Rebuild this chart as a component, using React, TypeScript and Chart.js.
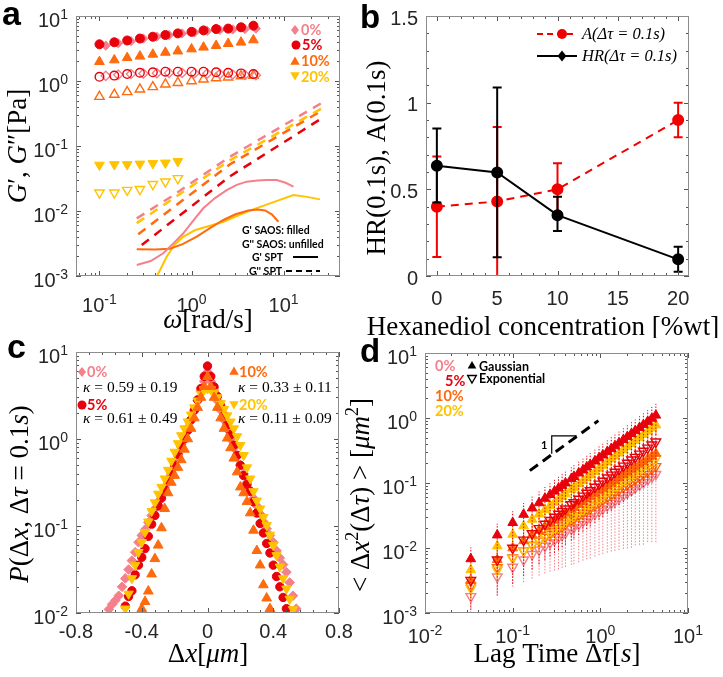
import React, { useEffect, useRef } from "react";
import { Chart, registerables } from "chart.js";

Chart.register(...registerables);

// ---------------- colours & fonts ----------------
const PINK = "#F4808B";
const RED = "#E8000B";
const ORANGE = "#FF6A0D";
const YELLOW = "#FFC300";
const BRED = "#F20000";
const SANS = '"Liberation Sans", Arial, sans-serif';
const LEG = 'Lato, "Open Sans", sans-serif';
const SERIF = '"Liberation Serif", "DejaVu Serif", serif';

// ---------------- panel a : SAOS / SPT moduli ----------------
const saosFreq = [0.1, 0.145, 0.2, 0.275, 0.38, 0.52, 0.71, 1.0, 1.35, 1.85, 2.5, 3.45, 4.7];
const saosFreqPink = [0.117, 0.16, 0.22, 0.3, 0.42, 0.57, 0.79, 1.08, 1.48, 2.03, 2.8, 3.8, 5.0];
const saosFreq20 = [0.1, 0.145, 0.2, 0.275, 0.38, 0.52, 0.71];
const Gp0 = [3.5, 3.8, 4.1, 4.5, 4.8, 5.1, 5.4, 5.6, 5.9, 6.1, 6.2, 6.3, 6.4];
const Gpp0 = [1.2, 1.25, 1.28, 1.3, 1.32, 1.33, 1.33, 1.32, 1.3, 1.28, 1.26, 1.24, 1.23];
const Gp5 = [3.67, 3.94, 4.2, 4.5, 4.8, 5.1, 5.4, 5.7, 6.0, 6.3, 6.4, 6.7, 7.1];
const Gpp5 = [1.16, 1.21, 1.28, 1.34, 1.36, 1.39, 1.39, 1.39, 1.39, 1.36, 1.34, 1.31, 1.28];
const Gp10 = [1.98, 2.1, 2.28, 2.4, 2.57, 2.75, 2.88, 3.1, 3.3, 3.5, 3.75, 3.94, 4.27];
const Gpp10 = [0.574, 0.62, 0.68, 0.745, 0.81, 0.89, 0.94, 1.0, 1.06, 1.11, 1.14, 1.19, 1.21];
const Gp20 = [0.051, 0.052, 0.052, 0.053, 0.054, 0.055, 0.058];
const Gpp20 = [0.0191, 0.0191, 0.021, 0.0216, 0.0258, 0.0283, 0.0318];

const sptFreqGp0 = [0.254, 0.36, 0.493, 0.64, 0.814, 1.05, 1.34, 1.8, 2.41, 3.1, 3.98, 5.2, 6.56, 8.43, 10.5, 12.8];
const sptGp0 = [0.00148, 0.0017, 0.00224, 0.0032, 0.00454, 0.0072, 0.011, 0.0158, 0.021, 0.0252, 0.0283, 0.0295, 0.03, 0.03, 0.0272, 0.0237];
const sptFreqGp10 = [0.254, 0.4, 0.583, 0.8, 1.14, 1.6, 2.22, 3.0, 4.14, 5.2, 6.3, 7.5, 8.78];
const sptGp10 = [0.00258, 0.00255, 0.00262, 0.0031, 0.00403, 0.0055, 0.00727, 0.0089, 0.0102, 0.0105, 0.0102, 0.0088, 0.00684];
const sptFreqGp20 = [0.4, 0.419, 0.537, 0.65, 0.814, 1.1, 1.46, 2.22, 3.98, 7.13, 12.8, 18, 24.9];
const sptGp20 = [0.00085, 0.00098, 0.00198, 0.003, 0.00403, 0.0051, 0.00574, 0.00684, 0.00975, 0.0131, 0.0176, 0.0165, 0.0151];

const sptFreqGpp0 = [0.254, 0.6, 2.6, 26];
const sptGpp0 = [0.0077, 0.0166, 0.068, 0.46];
const sptFreqGpp20 = [0.254, 2.6, 26];
const sptGpp20 = [0.0065, 0.06, 0.38];
const sptFreqGpp10 = [0.264, 2.6, 26];
const sptGpp10 = [0.0044, 0.052, 0.35];
const sptFreqGpp5 = [0.288, 2.6, 26];
const sptGpp5 = [0.003, 0.034, 0.267];

// ---------------- panel b : HR and A vs concentration ----------------
const conc = [0, 5, 10, 20];
const ampA = [0.4, 0.43, 0.5, 0.9];
const ampALo = [0.11, 0.0, 0.35, 0.8];
const ampAHi = [0.69, 0.86, 0.65, 1.0];
const hrVal = [0.636, 0.597, 0.351, 0.096];
const hrLo = [0.424, 0.108, 0.26, 0.025];
const hrHi = [0.851, 1.087, 0.457, 0.169];

// ---------------- panel c : displacement distributions ----------------
const dxBins = [-0.6, -0.58, -0.56, -0.54, -0.52, -0.5, -0.48, -0.46, -0.44, -0.42, -0.4, -0.38, -0.36, -0.34, -0.32, -0.3, -0.28, -0.26, -0.24, -0.22, -0.2, -0.18, -0.16, -0.14, -0.12, -0.1, -0.08, -0.06, -0.04, -0.02, 0, 0.02, 0.04, 0.06, 0.08, 0.1, 0.12, 0.14, 0.16, 0.18, 0.2, 0.22, 0.24, 0.26, 0.28, 0.3, 0.32, 0.34, 0.36, 0.38, 0.4, 0.42, 0.44, 0.46, 0.48, 0.5, 0.52, 0.54];
const pdf0 = [0.011, 0.0126, 0.014, 0.0158, 0.02, 0.025, 0.0316, 0.04, 0.05, 0.065, 0.078, 0.091, 0.11, 0.132, 0.158, 0.19, 0.23, 0.28, 0.35, 0.43, 0.54, 0.68, 0.85, 1.07, 1.35, 1.7, 2.14, 2.75, 3.55, 4.6, 5.9, 4.6, 3.55, 2.75, 2.14, 1.66, 1.29, 1.0, 0.79, 0.63, 0.5, 0.4, 0.316, 0.257, 0.209, 0.17, 0.138, 0.112, 0.093, 0.078, 0.065, 0.052, 0.043, 0.036, 0.0295, 0.0224, 0.0158, 0.0112];
const pdf5 = [null, null, null, null, null, 0.012, 0.0155, 0.018, 0.0275, 0.0355, 0.0437, 0.055, 0.076, 0.105, 0.132, 0.17, 0.209, 0.263, 0.331, 0.389, 0.5, 0.66, 0.83, 1.0, 1.26, 1.66, 2.14, 2.82, 3.8, 5.25, 6.9, 5.25, 3.98, 3.09, 2.4, 1.86, 1.45, 1.12, 0.85, 0.65, 0.5, 0.38, 0.3, 0.25, 0.19, 0.141, 0.107, 0.083, 0.063, 0.049, 0.0355, 0.0263, 0.02, 0.0151, 0.0112, null, null, null];
const pdf10 = [null, null, null, null, null, null, null, null, null, null, 0.0112, 0.0135, 0.0178, 0.028, 0.042, 0.06, 0.095, 0.158, 0.24, 0.316, 0.38, 0.47, 0.575, 0.76, 1.0, 1.32, 1.74, 2.3, 3.0, 4.0, 5.2, 4.0, 3.0, 2.3, 1.74, 1.32, 1.02, 0.79, 0.6, 0.417, 0.28, 0.24, 0.19, 0.141, 0.089, 0.052, 0.0355, 0.021, 0.0148, 0.0112, null, null, null, null, null, null, null, null];
const pdf20 = [null, null, null, null, null, 0.0112, 0.0166, 0.025, 0.0355, 0.05, 0.065, 0.085, 0.112, 0.148, 0.186, 0.234, 0.28, 0.35, 0.44, 0.56, 0.71, 0.89, 1.1, 1.32, 1.58, 1.9, 2.3, 2.75, 3.3, 3.7, 3.8, 3.7, 3.45, 3.0, 2.57, 2.2, 1.86, 1.58, 1.32, 1.07, 0.85, 0.65, 0.47, 0.35, 0.25, 0.195, 0.158, 0.126, 0.102, 0.079, 0.06, 0.046, 0.034, 0.025, 0.019, 0.0145, 0.011, null];

// ---------------- panel d : MSD vs lag time ----------------
const lagTime = [0.0333, 0.0667, 0.1, 0.1333, 0.1667, 0.2, 0.2333, 0.2667, 0.3, 0.3333, 0.3667, 0.4, 0.4667, 0.5, 0.5667, 0.6333, 0.7, 0.7667, 0.8667, 0.9667, 1.067, 1.2, 1.333, 1.467, 1.633, 1.833, 2.033, 2.267, 2.5, 2.8, 3.1, 3.467, 3.867, 4.3];
const msd5G = [0.0068, 0.0158, 0.0245, 0.0328, 0.0411, 0.0494, 0.0578, 0.066, 0.0745, 0.083, 0.0912, 0.0995, 0.116, 0.125, 0.142, 0.158, 0.175, 0.192, 0.217, 0.243, 0.268, 0.302, 0.336, 0.371, 0.412, 0.463, 0.514, 0.574, 0.634, 0.71, 0.787, 0.881, 0.984, 1.1];
const msd20G = [0.0046, 0.0107, 0.0162, 0.0218, 0.0275, 0.0331, 0.0388, 0.0446, 0.0502, 0.0561, 0.0618, 0.0676, 0.0793, 0.0851, 0.0968, 0.108, 0.12, 0.132, 0.15, 0.168, 0.186, 0.209, 0.234, 0.258, 0.288, 0.324, 0.361, 0.404, 0.447, 0.501, 0.557, 0.625, 0.7, 0.78];
const msd5E = [0.0032, 0.0066, 0.01, 0.0133, 0.0167, 0.02, 0.0233, 0.0267, 0.03, 0.0333, 0.0367, 0.04, 0.0467, 0.05, 0.0567, 0.0633, 0.07, 0.0767, 0.0867, 0.0967, 0.107, 0.12, 0.133, 0.147, 0.163, 0.183, 0.203, 0.227, 0.25, 0.28, 0.31, 0.347, 0.387, 0.43];
const msd10G = [0.0032, 0.0066, 0.01, 0.0129, 0.0158, 0.0185, 0.0213, 0.0239, 0.0266, 0.0292, 0.0318, 0.0344, 0.0394, 0.0419, 0.0468, 0.0516, 0.0565, 0.0612, 0.0682, 0.0753, 0.0822, 0.0912, 0.1, 0.109, 0.12, 0.133, 0.146, 0.161, 0.175, 0.194, 0.212, 0.235, 0.258, 0.284];
const msd20E = [0.0024, 0.0046, 0.0069, 0.0091, 0.0112, 0.0133, 0.0153, 0.0174, 0.0194, 0.0215, 0.0234, 0.0255, 0.0294, 0.0314, 0.0353, 0.0392, 0.0431, 0.0469, 0.0526, 0.0583, 0.064, 0.0714, 0.0791, 0.0865, 0.0955, 0.106, 0.117, 0.13, 0.143, 0.158, 0.175, 0.194, 0.215, 0.238];
const msd10E = [0.0026, 0.005, 0.0071, 0.0091, 0.011, 0.0129, 0.0147, 0.0164, 0.0182, 0.02, 0.0216, 0.0233, 0.0266, 0.0282, 0.0315, 0.0346, 0.0378, 0.0407, 0.0453, 0.0498, 0.0542, 0.06, 0.0658, 0.0714, 0.0782, 0.0863, 0.0944, 0.1035, 0.113, 0.124, 0.136, 0.149, 0.164, 0.18];
const msd0E = [0.0018, 0.0036, 0.0051, 0.0066, 0.008, 0.0094, 0.0107, 0.012, 0.0133, 0.0146, 0.0159, 0.0171, 0.0196, 0.0208, 0.0232, 0.0255, 0.0279, 0.0301, 0.0335, 0.0369, 0.0402, 0.0446, 0.0489, 0.0531, 0.0582, 0.0644, 0.0705, 0.0774, 0.0843, 0.0931, 0.102, 0.112, 0.123, 0.136];
// relative error (fraction of value) of each MSD series
const relErr0E = [0.35, 0.45, 0.5, 0.55, 0.58, 0.6, 0.62, 0.64, 0.66, 0.68, 0.69, 0.7, 0.72, 0.73, 0.74, 0.75, 0.76, 0.77, 0.78, 0.79, 0.8, 0.81, 0.82, 0.83, 0.84, 0.85, 0.86, 0.87, 0.87, 0.88, 0.89, 0.89, 0.9, 0.91];
const relErrSeries = [0.5, 0.25, 0.72, 0.28, 0.3, 0.3];
// slope-one guide and its triangle
const guideX = [0.157, 0.95];
const guideY = [0.155, 0.91];
const triX = [0.279, 0.279, 0.537];
const triY = [0.281, 0.53, 0.53];

// ---------------- helpers ----------------
type Seg = { t: string; i?: boolean; sup?: boolean };

const pts = (xs: number[], ys: (number | null)[]) =>
  xs.map((x, i) => ({ x, y: ys[i] })).filter((p) => p.y !== null && p.y !== undefined);

function logMinors(lo: number, hi: number) {
  const out: number[] = [];
  for (let e = Math.floor(Math.log10(lo)); e <= Math.ceil(Math.log10(hi)); e++)
    for (let k = 2; k <= 9; k++) {
      const v = k * Math.pow(10, e);
      if (v >= lo && v <= hi) out.push(v);
    }
  return out;
}
function linSteps(lo: number, hi: number, step: number) {
  const out: number[] = [];
  const n = Math.round((hi - lo) / step);
  for (let k = 0; k <= n; k++) out.push(+(lo + k * step).toFixed(6));
  return out;
}
const logFmt = (v: number): Seg[] => [{ t: "10" }, { t: String(Math.round(Math.log10(v))), sup: true }];
const plainFmt = (v: number): Seg[] => [{ t: String(v) }];

function drawRich(ctx: any, n: any) {
  ctx.save();
  ctx.translate(n.x, n.y);
  if (n.rot) ctx.rotate(-Math.PI / 2);
  const size = n.size;
  const font = (s: Seg) =>
    `${s.i ? "italic " : ""}${n.bold ? "bold " : ""}${s.sup ? Math.round(size * 0.68) : size}px ${n.family}`;
  let total = 0;
  const widths = n.segs.map((s: Seg) => {
    ctx.font = font(s);
    const w = ctx.measureText(s.t).width;
    total += w;
    return w;
  });
  let cx = n.align === "center" ? -total / 2 : n.align === "right" ? -total : 0;
  ctx.fillStyle = n.color || "#000";
  ctx.textAlign = "left";
  ctx.textBaseline = "alphabetic";
  n.segs.forEach((s: Seg, k: number) => {
    ctx.font = font(s);
    ctx.fillText(s.t, cx, s.sup ? -size * 0.42 : 0);
    cx += widths[k];
  });
  ctx.restore();
}

function drawMark(ctx: any, shape: string, x: number, y: number, r: number, color: string, fill: boolean) {
  ctx.save();
  ctx.beginPath();
  if (shape === "circle") ctx.arc(x, y, r, 0, Math.PI * 2);
  else if (shape === "diamond") {
    ctx.moveTo(x, y - r);
    ctx.lineTo(x + r * 0.8, y);
    ctx.lineTo(x, y + r);
    ctx.lineTo(x - r * 0.8, y);
  } else if (shape === "tri") {
    ctx.moveTo(x, y - r);
    ctx.lineTo(x + r * 0.866, y + r * 0.5);
    ctx.lineTo(x - r * 0.866, y + r * 0.5);
  } else {
    ctx.moveTo(x, y + r);
    ctx.lineTo(x + r * 0.866, y - r * 0.5);
    ctx.lineTo(x - r * 0.866, y - r * 0.5);
  }
  ctx.closePath();
  if (fill) {
    ctx.fillStyle = color;
    ctx.fill();
  } else {
    ctx.strokeStyle = color;
    ctx.lineWidth = 1.4;
    ctx.stroke();
  }
  ctx.restore();
}

function makeNotes(notes: any[], ox: number, oy: number) {
  return {
    id: "notes",
    afterDraw(chart: any) {
      const ctx = chart.ctx;
      ctx.save();
      ctx.translate(-ox, -oy);
      for (const n of notes) {
        if (n.kind === "text") drawRich(ctx, n);
        else if (n.kind === "mark") drawMark(ctx, n.shape, n.x, n.y, n.r, n.color, n.fill);
        else if (n.kind === "line") {
          ctx.save();
          ctx.strokeStyle = n.color;
          ctx.lineWidth = n.width;
          ctx.setLineDash(n.dash || []);
          ctx.beginPath();
          ctx.moveTo(n.pts[0], n.pts[1]);
          for (let k = 2; k < n.pts.length; k += 2) ctx.lineTo(n.pts[k], n.pts[k + 1]);
          ctx.stroke();
          ctx.restore();
        }
      }
      ctx.restore();
    },
  };
}

function makeFrame(c: any) {
  return {
    id: "frame",
    afterDraw(chart: any) {
      const ctx = chart.ctx;
      const a = chart.chartArea;
      const xs = chart.scales.x;
      const ys = chart.scales.y;
      ctx.save();
      ctx.lineWidth = 1;
      ctx.strokeStyle = "#555";
      const tickX = (v: number, len: number) => {
        const p = Math.round(xs.getPixelForValue(v)) + 0.5;
        if (p < a.left - 0.5 || p > a.right + 0.5) return;
        ctx.beginPath();
        ctx.moveTo(p, a.bottom);
        ctx.lineTo(p, a.bottom - len);
        ctx.moveTo(p, a.top);
        ctx.lineTo(p, a.top + len);
        ctx.stroke();
      };
      const tickY = (v: number, len: number) => {
        const p = Math.round(ys.getPixelForValue(v)) + 0.5;
        if (p < a.top - 0.5 || p > a.bottom + 0.5) return;
        ctx.beginPath();
        ctx.moveTo(a.left, p);
        ctx.lineTo(a.left + len, p);
        ctx.moveTo(a.right, p);
        ctx.lineTo(a.right - len, p);
        ctx.stroke();
      };
      c.xMinor.forEach((v: number) => tickX(v, 3));
      c.yMinor.forEach((v: number) => tickY(v, 3));
      c.xMajor.forEach((v: number) => tickX(v, 5));
      c.yMajor.forEach((v: number) => tickY(v, 5));
      ctx.strokeStyle = "#8c8c8c";
      ctx.strokeRect(Math.round(a.left) + 0.5, Math.round(a.top) + 0.5, Math.round(a.right - a.left) - 1, Math.round(a.bottom - a.top) - 1);
      c.xMajor.forEach((v: number) =>
        drawRich(ctx, { x: xs.getPixelForValue(v), y: a.bottom + c.xBase, segs: c.xFmt(v), size: 20, family: SANS, align: "center", color: "#262626" })
      );
      c.yMajor.forEach((v: number) =>
        drawRich(ctx, { x: a.left - 8, y: ys.getPixelForValue(v) + c.yBase, segs: c.yFmt(v), size: 20, family: SANS, align: "right", color: "#262626" })
      );
      ctx.restore();
    },
  };
}

const errorBarPlugin = {
  id: "errbars",
  beforeDatasetDraw(chart: any, args: any) {
    const ds: any = chart.data.datasets[args.index];
    if (!ds.errLo || !ds.errHi) return;
    const meta = args.meta;
    const ys = chart.scales[meta.yAxisID];
    const a = chart.chartArea;
    const ctx = chart.ctx;
    ctx.save();
    ctx.beginPath();
    ctx.rect(a.left, a.top, a.right - a.left, a.bottom - a.top);
    ctx.clip();
    ctx.strokeStyle = ds.errColor;
    ctx.lineWidth = ds.errWidth || 1;
    meta.data.forEach((el: any, i: number) => {
      const lo = ds.errLo[i];
      const hi = ds.errHi[i];
      if (lo == null || hi == null) return;
      const x = el.x;
      const y1 = lo > 0 || ys.type !== "logarithmic" ? ys.getPixelForValue(lo) : a.bottom + 5;
      const y2 = ys.getPixelForValue(hi);
      ctx.setLineDash(ds.errDash || []);
      ctx.beginPath();
      ctx.moveTo(x, y1);
      ctx.lineTo(x, y2);
      ctx.stroke();
      if (ds.errCap) {
        ctx.setLineDash([]);
        ctx.beginPath();
        ctx.moveTo(x - ds.errCap, y1);
        ctx.lineTo(x + ds.errCap, y1);
        ctx.moveTo(x - ds.errCap, y2);
        ctx.lineTo(x + ds.errCap, y2);
        ctx.stroke();
      }
    });
    ctx.restore();
  },
};

function baseOptions(o: any) {
  return {
    animation: false,
    responsive: false,
    maintainAspectRatio: false,
    events: [],
    layout: { padding: o.pad, autoPadding: false },
    plugins: { legend: { display: false }, tooltip: { enabled: false }, title: { display: false } },
    scales: {
      x: {
        type: o.xType,
        min: o.xMin,
        max: o.xMax,
        ticks: { display: false },
        grid: { display: false },
        border: { display: false },
        afterFit: (s: any) => {
          s.height = o.xH;
        },
      },
      y: {
        type: o.yType,
        min: o.yMin,
        max: o.yMax,
        ticks: { display: false },
        grid: { display: false },
        border: { display: false },
        afterFit: (s: any) => {
          s.width = o.yW;
        },
      },
    },
  };
}

const OPEN = "rgba(0,0,0,0)";
function markerSet(data: any[], style: string, r: number, color: string, filled: boolean, rot = 0) {
  return {
    data,
    showLine: false,
    pointStyle: style,
    pointRotation: rot,
    pointRadius: r,
    pointBackgroundColor: filled ? color : OPEN,
    pointBorderColor: color,
    pointBorderWidth: filled ? 1 : 1.4,
    backgroundColor: filled ? color : OPEN,
    borderColor: color,
  };
}
function lineSet(data: any[], color: string, width: number, dash: number[] = []) {
  return {
    data,
    showLine: true,
    pointRadius: 0,
    borderColor: color,
    backgroundColor: color,
    borderWidth: width,
    borderDash: dash,
    fill: false,
    tension: 0,
  };
}

// ---------------- panel configurations ----------------
function configA(ox: number, oy: number) {
  const xMin = 0.0556, xMax = 41, yMin = 0.001, yMax = 10;
  const datasets = [
    markerSet(pts(saosFreq, Gp5), "circle", 4.5, RED, true),
    markerSet(pts(saosFreqPink, Gp0), "rectRot", 4.6, PINK, true),
    markerSet(pts(saosFreq, Gpp5), "circle", 4.3, RED, false),
    markerSet(pts(saosFreqPink, Gpp0), "rectRot", 4.6, PINK, false),
    markerSet(pts(saosFreq, Gp10), "triangle", 5.6, ORANGE, true),
    markerSet(pts(saosFreq, Gpp10), "triangle", 5.4, ORANGE, false),
    markerSet(pts(saosFreq20, Gp20), "triangle", 5.6, YELLOW, true, 180),
    markerSet(pts(saosFreq20, Gpp20), "triangle", 5.4, YELLOW, false, 180),
    lineSet(pts(sptFreqGp0, sptGp0), PINK, 2),
    lineSet(pts(sptFreqGp10, sptGp10), ORANGE, 2),
    lineSet(pts(sptFreqGp20, sptGp20), YELLOW, 2),
    lineSet(pts(sptFreqGpp0, sptGpp0), PINK, 2.5, [9, 7]),
    lineSet(pts(sptFreqGpp20, sptGpp20), YELLOW, 2.5, [9, 7]),
    lineSet(pts(sptFreqGpp10, sptGpp10), ORANGE, 2.5, [9, 7]),
    lineSet(pts(sptFreqGpp5, sptGpp5), RED, 2.5, [9, 7]),
  ];
  const notes = [
    { kind: "text", x: 2, y: 25, segs: [{ t: "a" }], size: 34, family: SANS, bold: true },
    { kind: "mark", shape: "diamond", x: 295, y: 30, r: 5, color: PINK, fill: true },
    { kind: "text", x: 301, y: 35, segs: [{ t: "0%" }], size: 14.5, family: LEG, bold: true, color: PINK },
    { kind: "mark", shape: "circle", x: 296, y: 45, r: 4.5, color: RED, fill: true },
    { kind: "text", x: 302, y: 50, segs: [{ t: "5%" }], size: 14.5, family: LEG, bold: true, color: RED },
    { kind: "mark", shape: "tri", x: 295, y: 62, r: 5.5, color: ORANGE, fill: true },
    { kind: "text", x: 301, y: 66, segs: [{ t: "10%" }], size: 14.5, family: LEG, bold: true, color: ORANGE },
    { kind: "mark", shape: "triDown", x: 295, y: 75, r: 5.5, color: YELLOW, fill: true },
    { kind: "text", x: 301, y: 82, segs: [{ t: "20%" }], size: 14.5, family: LEG, bold: true, color: YELLOW },
    { kind: "text", x: 242, y: 234, segs: [{ t: "G' SAOS: filled" }], size: 10.5, family: LEG, bold: true },
    { kind: "text", x: 242, y: 248, segs: [{ t: "G'' SAOS: unfilled" }], size: 10.5, family: LEG, bold: true },
    { kind: "text", x: 252, y: 261, segs: [{ t: "G' SPT" }], size: 10.5, family: LEG, bold: true },
    { kind: "line", pts: [293, 257, 318, 257], color: "#000", width: 2 },
    { kind: "text", x: 249, y: 275, segs: [{ t: "G'' SPT" }], size: 10.5, family: LEG, bold: true },
    { kind: "line", pts: [286, 271, 320, 271], color: "#000", width: 2, dash: [6, 4] },
    { kind: "text", x: 208, y: 328, segs: [{ t: "ω", i: true }, { t: "[rad/s]" }], size: 27, family: SERIF, align: "center" },
    {
      kind: "text", x: 26, y: 146, rot: true, align: "center", size: 27, family: SERIF,
      segs: [{ t: "G", i: true }, { t: "′" }, { t: ", " }, { t: "G", i: true }, { t: "″" }, { t: "[Pa]" }],
    },
  ];
  return {
    type: "scatter",
    data: { datasets },
    options: baseOptions({ xType: "logarithmic", xMin, xMax, yType: "logarithmic", yMin, yMax, xH: 62, yW: 76, pad: { left: 0, top: 16, right: 21, bottom: 0 } }),
    plugins: [
      errorBarPlugin,
      makeFrame({ xMajor: [0.1, 1, 10], xMinor: logMinors(xMin, xMax), yMajor: [0.001, 0.01, 0.1, 1, 10], yMinor: logMinors(yMin, yMax), xFmt: logFmt, yFmt: logFmt, xBase: 36, yBase: 11 }),
      makeNotes(notes, ox, oy),
    ],
  };
}

function configB(ox: number, oy: number) {
  const datasets = [
    {
      ...lineSet(pts(conc, hrVal), "#000", 2),
      pointRadius: 5, pointStyle: "circle", pointBackgroundColor: "#000", pointBorderColor: "#000",
      errLo: hrLo, errHi: hrHi, errColor: "#000", errWidth: 2, errCap: 4.5,
    },
    {
      ...lineSet(pts(conc, ampA), BRED, 2, [8, 6]),
      pointRadius: 5, pointStyle: "circle", pointBackgroundColor: BRED, pointBorderColor: BRED,
      errLo: ampALo, errHi: ampAHi, errColor: BRED, errWidth: 2, errCap: 4.5,
    },
  ];
  const notes = [
    { kind: "text", x: 360, y: 28, segs: [{ t: "b" }], size: 33, family: SANS, bold: true },
    { kind: "line", pts: [537, 34, 577, 34], color: BRED, width: 2, dash: [6, 4] },
    { kind: "mark", shape: "circle", x: 562, y: 34, r: 5, color: BRED, fill: true },
    { kind: "text", x: 582, y: 39, segs: [{ t: "A(Δτ = 0.1s)", i: true }], size: 16.5, family: SERIF },
    { kind: "line", pts: [537, 56, 577, 56], color: "#000", width: 2 },
    { kind: "mark", shape: "diamond", x: 562, y: 56, r: 5.5, color: "#000", fill: true },
    { kind: "text", x: 582, y: 61, segs: [{ t: "HR(Δτ = 0.1s)", i: true }], size: 16.5, family: SERIF },
    { kind: "text", x: 543, y: 335, segs: [{ t: "Hexanediol concentration [%wt]" }], size: 27, family: SERIF, align: "center" },
    { kind: "text", x: 385, y: 158, rot: true, align: "center", segs: [{ t: "HR(0.1s), A(0.1s)" }], size: 27, family: SERIF },
  ];
  return {
    type: "scatter",
    data: { datasets },
    options: baseOptions({ xType: "linear", xMin: -0.9, xMax: 20.9, yType: "linear", yMin: 0, yMax: 1.5, xH: 62, yW: 81, pad: { left: 0, top: 16, right: 34, bottom: 0 } }),
    plugins: [
      errorBarPlugin,
      makeFrame({ xMajor: [0, 5, 10, 15, 20], xMinor: linSteps(0, 20, 1), yMajor: [0, 0.5, 1, 1.5], yMinor: linSteps(0, 1.5, 0.1), xFmt: plainFmt, yFmt: plainFmt, xBase: 29, yBase: 8.5 }),
      makeNotes(notes, ox, oy),
    ],
  };
}

function configC(ox: number, oy: number) {
  const datasets = [
    markerSet(pts(dxBins, pdf10), "triangle", 5.6, ORANGE, true),
    markerSet(pts(dxBins, pdf20), "triangle", 5.4, YELLOW, true, 180),
    markerSet(pts(dxBins, pdf5), "circle", 4.2, RED, true),
    markerSet(pts(dxBins, pdf0), "rectRot", 4.8, PINK, true),
  ];
  const notes = [
    { kind: "text", x: 7, y: 358, segs: [{ t: "c" }], size: 34, family: SANS, bold: true },
    { kind: "mark", shape: "diamond", x: 82, y: 372, r: 5, color: PINK, fill: true },
    { kind: "text", x: 87, y: 377, segs: [{ t: "0%" }], size: 14.5, family: LEG, bold: true, color: PINK },
    { kind: "text", x: 83, y: 392, segs: [{ t: "κ", i: true }, { t: " = 0.59 ± 0.19" }], size: 15.5, family: SERIF },
    { kind: "mark", shape: "circle", x: 82, y: 405, r: 4.5, color: RED, fill: true },
    { kind: "text", x: 87, y: 410, segs: [{ t: "5%" }], size: 14.5, family: LEG, bold: true, color: RED },
    { kind: "text", x: 83, y: 423, segs: [{ t: "κ", i: true }, { t: " = 0.61 ± 0.49" }], size: 15.5, family: SERIF },
    { kind: "mark", shape: "tri", x: 234, y: 372, r: 5.5, color: ORANGE, fill: true },
    { kind: "text", x: 239, y: 377, segs: [{ t: "10%" }], size: 14.5, family: LEG, bold: true, color: ORANGE },
    { kind: "text", x: 238, y: 392, segs: [{ t: "κ", i: true }, { t: " = 0.33 ± 0.11" }], size: 15.5, family: SERIF },
    { kind: "mark", shape: "triDown", x: 234, y: 404, r: 5.5, color: YELLOW, fill: true },
    { kind: "text", x: 239, y: 410, segs: [{ t: "20%" }], size: 14.5, family: LEG, bold: true, color: YELLOW },
    { kind: "text", x: 238, y: 423, segs: [{ t: "κ", i: true }, { t: " = 0.11 ± 0.09" }], size: 15.5, family: SERIF },
    { kind: "text", x: 208, y: 662, align: "center", size: 27, family: SERIF, segs: [{ t: "Δ" }, { t: "x", i: true }, { t: "[" }, { t: "μm", i: true }, { t: "]" }] },
    {
      kind: "text", x: 28, y: 494, rot: true, align: "center", size: 27, family: SERIF,
      segs: [{ t: "P", i: true }, { t: "(Δ" }, { t: "x", i: true }, { t: ", Δ" }, { t: "τ", i: true }, { t: " = 0.1" }, { t: "s", i: true }, { t: ")" }],
    },
  ];
  return {
    type: "scatter",
    data: { datasets },
    options: baseOptions({ xType: "linear", xMin: -0.8, xMax: 0.8, yType: "logarithmic", yMin: 0.01, yMax: 10, xH: 64, yW: 76, pad: { left: 0, top: 14, right: 22, bottom: 0 } }),
    plugins: [
      errorBarPlugin,
      makeFrame({ xMajor: [-0.8, -0.4, 0, 0.4, 0.8], xMinor: linSteps(-0.8, 0.8, 0.08), yMajor: [0.01, 0.1, 1, 10], yMinor: logMinors(0.01, 10), xFmt: plainFmt, yFmt: logFmt, xBase: 25, yBase: 11 }),
      makeNotes(notes, ox, oy),
    ],
  };
}

function withErr(v: number[], rel: number[] | number) {
  return {
    lo: v.map((y, i) => y * (1 - (Array.isArray(rel) ? rel[i] : rel))),
    hi: v.map((y, i) => y * (1 + (Array.isArray(rel) ? rel[i] : rel))),
  };
}

function configD(ox: number, oy: number) {
  const series = [
    { v: msd5G, c: RED, f: true, rot: 0, rel: relErrSeries[0], dash: [1.5, 1.5] },
    { v: msd20G, c: YELLOW, f: true, rot: 0, rel: relErrSeries[1], dash: [] },
    { v: msd5E, c: RED, f: false, rot: 180, rel: relErrSeries[2], dash: [1.5, 1.5] },
    { v: msd10G, c: ORANGE, f: true, rot: 0, rel: relErrSeries[3], dash: [1.5, 1.5] },
    { v: msd20E, c: YELLOW, f: false, rot: 180, rel: relErrSeries[4], dash: [] },
    { v: msd10E, c: ORANGE, f: false, rot: 180, rel: relErrSeries[5], dash: [1.5, 1.5] },
    { v: msd0E, c: PINK, f: false, rot: 180, rel: relErr0E, dash: [1.5, 1.5] },
  ];
  const datasets: any[] = [
    lineSet(pts(guideX, guideY), "#000", 3, [10, 6]),
    lineSet(pts(triX, triY), "#000", 1.2),
  ];
  series.forEach((s) => {
    const e = withErr(s.v, s.rel);
    datasets.push({
      ...markerSet(pts(lagTime, s.v), "triangle", 5.6, s.c, s.f, s.rot),
      errLo: e.lo, errHi: e.hi, errColor: s.c, errWidth: 1, errDash: s.dash,
    });
  });
  const notes = [
    { kind: "text", x: 360, y: 362, segs: [{ t: "d" }], size: 33, family: SANS, bold: true },
    { kind: "text", x: 435, y: 371, segs: [{ t: "0%" }], size: 14.5, family: LEG, bold: true, color: PINK },
    { kind: "text", x: 445, y: 386, segs: [{ t: "5%" }], size: 14.5, family: LEG, bold: true, color: RED },
    { kind: "text", x: 435, y: 401, segs: [{ t: "10%" }], size: 14.5, family: LEG, bold: true, color: ORANGE },
    { kind: "text", x: 435, y: 416, segs: [{ t: "20%" }], size: 14.5, family: LEG, bold: true, color: YELLOW },
    { kind: "mark", shape: "tri", x: 472, y: 366, r: 5, color: "#000", fill: true },
    { kind: "text", x: 479, y: 371, segs: [{ t: "Gaussian" }], size: 12.5, family: LEG, bold: true },
    { kind: "mark", shape: "triDown", x: 472, y: 378, r: 5, color: "#000", fill: false },
    { kind: "text", x: 479, y: 383, segs: [{ t: "Exponential" }], size: 12.5, family: LEG, bold: true },
    { kind: "text", x: 541, y: 449, segs: [{ t: "1" }], size: 11, family: LEG, bold: true },
    { kind: "text", x: 557, y: 662, align: "center", size: 27, family: SERIF, segs: [{ t: "Lag Time Δ" }, { t: "τ", i: true }, { t: "[" }, { t: "s", i: true }, { t: "]" }] },
    {
      kind: "text", x: 369, y: 495, rot: true, align: "center", size: 27, family: SERIF,
      segs: [{ t: "< Δ" }, { t: "x", i: true }, { t: "2", sup: true }, { t: "(Δ" }, { t: "τ", i: true }, { t: ") > [" }, { t: "μm", i: true }, { t: "2", sup: true }, { t: "]" }],
    },
  ];
  return {
    type: "scatter",
    data: { datasets },
    options: baseOptions({ xType: "logarithmic", xMin: 0.01, xMax: 10, yType: "logarithmic", yMin: 0.001, yMax: 10, xH: 64, yW: 85, pad: { left: 0, top: 15, right: 35, bottom: 0 } }),
    plugins: [
      errorBarPlugin,
      makeFrame({ xMajor: [0.01, 0.1, 1, 10], xMinor: logMinors(0.01, 10), yMajor: [0.001, 0.01, 0.1, 1, 10], yMinor: logMinors(0.001, 10), xFmt: logFmt, yFmt: logFmt, xBase: 30, yBase: 11 }),
      makeNotes(notes, ox, oy),
    ],
  };
}

// ---------------- components ----------------
function ChartPanel(props: { left: number; top: number; width: number; height: number; make: (ox: number, oy: number) => any }) {
  const ref = useRef<HTMLCanvasElement>(null);
  useEffect(() => {
    const chart = new Chart(ref.current as HTMLCanvasElement, props.make(props.left, props.top));
    return () => chart.destroy();
  }, []);
  return (
    <canvas
      ref={ref}
      width={props.width}
      height={props.height}
      style={{ position: "absolute", left: props.left, top: props.top, width: props.width, height: props.height }}
    />
  );
}

export default function App() {
  return (
    <div style={{ position: "absolute", left: 0, top: 0, width: 723, height: 677, background: "#fff", overflow: "hidden" }}>
      <ChartPanel left={0} top={0} width={361} height={338} make={configA} />
      <ChartPanel left={345} top={0} width={378} height={338} make={configB} />
      <ChartPanel left={0} top={338} width={361} height={339} make={configC} />
      <ChartPanel left={340} top={338} width={383} height={339} make={configD} />
    </div>
  );
}
